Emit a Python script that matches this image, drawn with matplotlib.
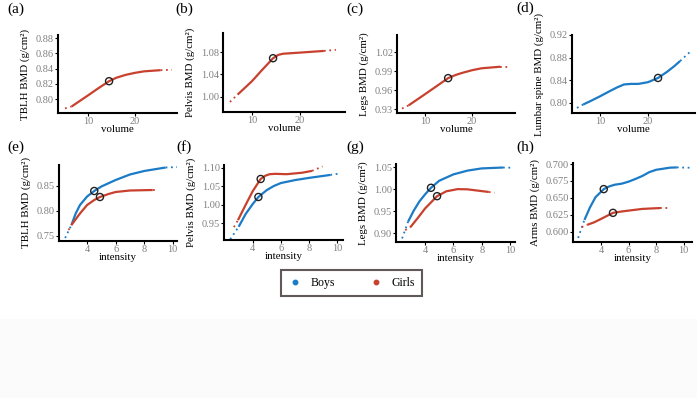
import matplotlib
matplotlib.use('Agg')
import matplotlib.pyplot as plt
from matplotlib.lines import Line2D
from matplotlib.patches import Rectangle

plt.rcParams['font.family'] = ['Liberation Serif', 'DejaVu Serif']

BLUE = '#1b7bc6'
RED = '#c8412e'

# ---- data (first/last segment of each curve = dotted tail)
a_x = [5.1, 6.5, 10, 12, 14.5, 16, 18, 20, 22, 25.5, 27.9]
a_y = [0.788, 0.7905, 0.805, 0.8135, 0.8236, 0.828, 0.8318, 0.8345, 0.8365, 0.838, 0.8385]
b_x = [5.4, 7, 10, 12, 14.4, 15.5, 16.5, 20, 25, 27.5]
b_y = [0.991, 1.004, 1.028, 1.047, 1.069, 1.075, 1.077, 1.079, 1.082, 1.084]
c_x = [5.1, 6.5, 10, 12, 14.9, 16.5, 18, 20, 22, 26, 28]
c_y = [0.931, 0.936, 0.9537, 0.964, 0.979, 0.984, 0.9875, 0.9915, 0.9945, 0.997, 0.997]
d_x = [5.2, 6.5, 8, 10, 12, 13.5, 15, 16.5, 18, 20, 22.1, 24, 25.5, 26.7, 28.75]
d_y = [0.791, 0.797, 0.803, 0.8115, 0.8205, 0.827, 0.8325, 0.8335, 0.8335, 0.8365, 0.844,
       0.855, 0.865, 0.874, 0.890]

e_boys_x = [2.46, 2.9, 3.2, 3.5, 4, 4.5, 5, 6, 7, 8, 9.5, 10.5]
e_boys_y = [0.746, 0.772, 0.795, 0.812, 0.829, 0.84, 0.849, 0.862, 0.873, 0.88, 0.887, 0.888]
e_girls_x = [2.7, 2.9, 3.5, 4, 4.5, 4.9, 5.5, 6, 7, 8.6, 8.9]
e_girls_y = [0.762, 0.772, 0.795, 0.812, 0.822, 0.828, 0.834, 0.838, 0.841, 0.842, 0.842]

f_boys_x = [2.4, 3.0, 3.5, 4.0, 4.4, 5, 5.5, 6, 7, 8, 9.5, 10.2]
f_boys_y = [0.906, 0.94, 0.975, 1.002, 1.021, 1.04, 1.051, 1.059, 1.067, 1.073, 1.081, 1.085]
f_girls_x = [2.66, 2.95, 3.5, 4.0, 4.56, 4.9, 5.2, 5.6, 6.4, 7.5, 8.2, 8.95]
f_girls_y = [0.939, 0.958, 1.0, 1.037, 1.07, 1.079, 1.083, 1.084, 1.083, 1.087, 1.092, 1.104]

g_boys_x = [2.38, 2.8, 3.2, 3.6, 4.0, 4.42, 5, 6, 7, 8, 9.5, 10.2]
g_boys_y = [0.888, 0.926, 0.951, 0.972, 0.988, 1.003, 1.019, 1.0334, 1.042, 1.047, 1.049, 1.0485]
g_girls_x = [2.6, 2.95, 3.5, 4, 4.85, 5.5, 6.3, 7, 8, 8.5, 8.9]
g_girls_y = [0.907, 0.913, 0.935, 0.956, 0.984, 0.995, 1.0, 0.9995, 0.9955, 0.9935, 0.9916]

h_boys_x = [2.34, 2.8, 3.2, 3.6, 4.2, 4.6, 5, 5.5, 6, 6.5, 7, 7.5, 8, 9, 9.5, 10.5]
h_boys_y = [0.591, 0.6176, 0.636, 0.651, 0.663, 0.667, 0.6695, 0.671, 0.674, 0.678, 0.6824,
            0.688, 0.6915, 0.6946, 0.695, 0.6945]
h_girls_x = [2.6, 3, 3.5, 4, 4.87, 5.5, 6, 7, 8, 8.3, 8.85]
h_girls_y = [0.607, 0.6103, 0.614, 0.619, 0.628, 0.63, 0.6313, 0.6338, 0.6348, 0.635, 0.635]

# highlighted points (open circles)
a_pt = (14.5, 0.8236)
b_pt = (14.4, 1.069)
c_pt = (14.9, 0.979)
d_pt = (22.1, 0.844)
e_pts = [(4.5, 0.84), (4.9, 0.828)]
f_pts = [(4.4, 1.021), (4.56, 1.07)]
g_pts = [(4.42, 1.003), (4.85, 0.984)]
h_pts = [(4.2, 0.663), (4.87, 0.628)]

W, H = 697, 398
fig = plt.figure(figsize=(W / 100, H / 100), dpi=100)
fig.patches.append(Rectangle((0, 0), 1, 1 - 319 / H, transform=fig.transFigure,
                             color='#fbfbfb', zorder=0))


def make_ax(l, t, r, b):
    return fig.add_axes([l / W, 1 - b / H, (r - l) / W, (b - t) / H])


def curve(ax, x, y, color):
    ax.plot(x[1:-1], y[1:-1], color=color, lw=1.6, solid_capstyle='butt',
            solid_joinstyle='round', zorder=2)
    ax.plot(x[:2], y[:2], color=color, lw=1.3, ls=(0, (1, 2)), zorder=2)
    ax.plot(x[-2:], y[-2:], color=color, lw=1.3, ls=(0, (1, 2)), zorder=2)


def style(ax, xlim, ylim, xticks, yticks, ylabel, xlabel, fmt):
    ax.set_xlim(*xlim)
    ax.set_ylim(*ylim)
    ax.set_xticks(xticks)
    ax.set_yticks(yticks)
    ax.set_yticklabels([fmt.format(v) for v in yticks])
    for s in ['top', 'right']:
        ax.spines[s].set_visible(False)
    for s in ['left', 'bottom']:
        ax.spines[s].set_linewidth(1.5)
    ax.tick_params(length=2, width=0.8, labelsize=7.5, labelcolor='#808080', pad=1)
    ax.set_ylabel(ylabel, fontsize=7.8, labelpad=4)
    ax.set_xlabel(xlabel, fontsize=7.8, labelpad=-1)
    ax.patch.set_alpha(0)


def ring(ax, pts):
    for px, py in pts:
        ax.scatter(px, py, s=26, facecolors='none', edgecolors='#222222', lw=1.0, zorder=3)


ax = make_ax(58, 35, 177, 113)
curve(ax, a_x, a_y, RED)
ring(ax, [a_pt])
style(ax, (3.6, 29), (0.782, 0.884), [10, 20], [0.80, 0.82, 0.84, 0.86, 0.88],
      'TBLH BMD (g/cm²)', 'volume', '{:.2f}')

ax = make_ax(223, 33, 345, 112)
curve(ax, b_x, b_y, RED)
ring(ax, [b_pt])
style(ax, (3.96, 29.4), (0.973, 1.114), [10, 20], [1.00, 1.04, 1.08],
      'Pelvis BMD (g/cm²)', 'volume', '{:.2f}')

ax = make_ax(397, 35, 515, 113)
curve(ax, c_x, c_y, RED)
ring(ax, [c_pt])
style(ax, (4.04, 29.1), (0.924, 1.047), [10, 20], [0.93, 0.96, 0.99, 1.02],
      'Legs BMD (g/cm²)', 'volume', '{:.2f}')

ax = make_ax(572, 35, 695, 113)
curve(ax, d_x, d_y, BLUE)
ring(ax, [d_pt])
style(ax, (4.17, 29.8), (0.782, 0.92), [10, 20], [0.80, 0.84, 0.88, 0.92],
      'Lumbar spine BMD (g/cm²)', 'volume', '{:.2f}')

ax = make_ax(59, 165, 177, 241)
curve(ax, e_boys_x, e_boys_y, BLUE)
curve(ax, e_girls_x, e_girls_y, RED)
ring(ax, e_pts)
style(ax, (2.03, 10.3), (0.74, 0.892), [4, 6, 8, 10], [0.75, 0.80, 0.85],
      'TBLH BMD (g/cm²)', 'intensity', '{:.2f}')

ax = make_ax(224, 165, 343, 240)
curve(ax, f_boys_x, f_boys_y, BLUE)
curve(ax, f_girls_x, f_girls_y, RED)
ring(ax, f_pts)
style(ax, (1.96, 10.4), (0.904, 1.108), [4, 6, 8, 10], [0.95, 1.00, 1.05, 1.10],
      'Pelvis BMD (g/cm²)', 'intensity', '{:.2f}')

ax = make_ax(396, 164, 515, 242)
curve(ax, g_boys_x, g_boys_y, BLUE)
curve(ax, g_girls_x, g_girls_y, RED)
ring(ax, g_pts)
style(ax, (1.95, 10.35), (0.88, 1.057), [4, 6, 8, 10], [0.90, 0.95, 1.00, 1.05],
      'Legs BMD (g/cm²)', 'intensity', '{:.2f}')

ax = make_ax(573, 163, 692, 242)
curve(ax, h_boys_x, h_boys_y, BLUE)
curve(ax, h_girls_x, h_girls_y, RED)
ring(ax, h_pts)
style(ax, (1.97, 10.6), (0.585, 0.7015), [4, 6, 8, 10],
      [0.600, 0.625, 0.650, 0.675, 0.700],
      'Arms BMD (g/cm²)', 'intensity', '{:.3f}')

# panel letters
for lab, x, y in [('(a)', 16, 9), ('(b)', 184, 9), ('(c)', 355, 9), ('(d)', 525, 8),
                  ('(e)', 16, 147), ('(f)', 184, 147), ('(g)', 355, 147), ('(h)', 525, 147)]:
    fig.text(x / W, 1 - y / H, lab, fontsize=11, ha='center', va='center')

handles = [Line2D([], [], ls='none', marker='o', ms=3.2, color=BLUE),
           Line2D([], [], ls='none', marker='o', ms=3.2, color=RED)]
leg = fig.legend(handles, ['Boys', 'Girls'], ncol=2, mode='expand',
                 bbox_to_anchor=(281 / W, 1 - 296 / H, 141 / W, 26 / H), loc='lower left',
                 fontsize=8.5, frameon=True, fancybox=False, borderaxespad=0,
                 handlelength=1.2, handletextpad=0.7, borderpad=0.6)
leg.get_frame().set_edgecolor('#3a2e2e')
leg.get_frame().set_linewidth(1.5)

fig.savefig('out.png', dpi=100)
